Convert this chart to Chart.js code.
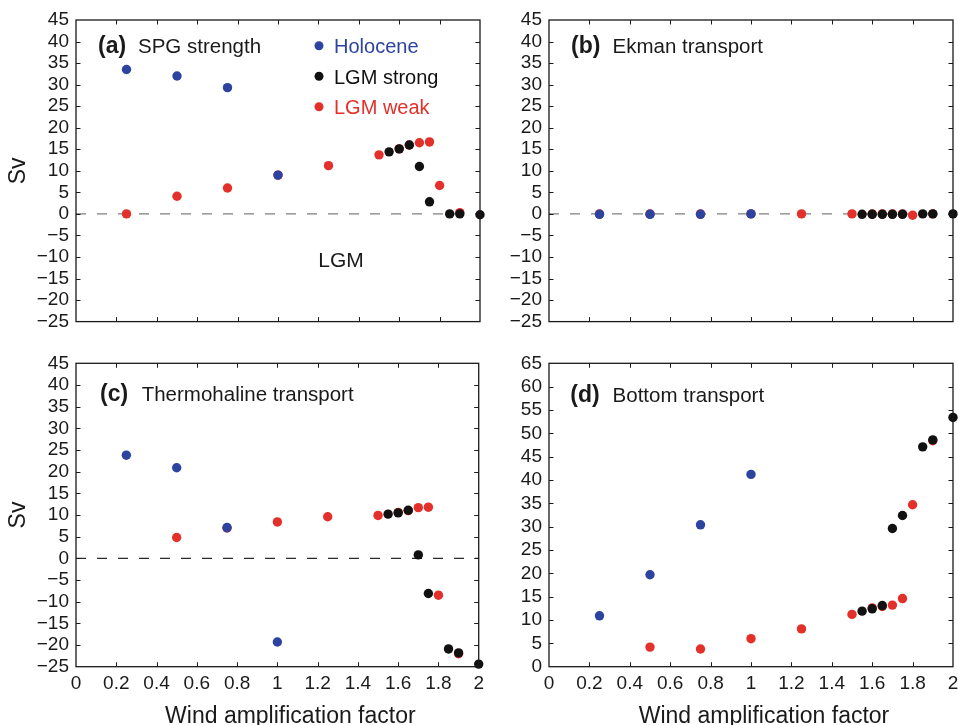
<!DOCTYPE html>
<html>
<head>
<meta charset="utf-8">
<script src="https://cdn.jsdelivr.net/npm/chart.js@4.4.1/dist/chart.umd.min.js"></script>
<style>
  html, body { margin: 0; padding: 0; background: #fff; overflow: hidden; width: 958px; height: 725px; }
  canvas { position: absolute; }
</style>
</head>
<body>
<canvas id="ca" width="490" height="340" style="left:0px;top:0px"></canvas>
<canvas id="cb" width="490" height="340" style="left:480px;top:0px"></canvas>
<canvas id="cc" width="490" height="390" style="left:0px;top:340px"></canvas>
<canvas id="cd" width="490" height="390" style="left:480px;top:340px"></canvas>
<script>
// ---------------- data ----------------
const seriesNames = ['Holocene', 'LGM strong', 'LGM weak'];
const holoceneX  = [0.25, 0.5, 0.75, 1.0];
const lgmStrongX = [1.55, 1.6, 1.65, 1.7, 1.75, 1.85, 1.9, 2.0];
const lgmWeakX   = [0.25, 0.5, 0.75, 1.0, 1.25, 1.5, 1.6, 1.65, 1.7, 1.75, 1.8, 1.9];

// (a) SPG strength
const spgHolocene = [33.5, 32.0, 29.3, 9.0];
const spgStrong   = [14.4, 15.1, 16.0, 11.0, 2.8, 0.0, 0.0, -0.2];
const spgWeak     = [0.0, 4.1, 6.0, 9.0, 11.2, 13.7, 15.1, 16.0, 16.5, 16.7, 6.6, 0.3];
// (b) Ekman transport
const ekmanHolocene = [-0.1, -0.1, -0.1, 0.0];
const ekmanStrong   = [-0.1, -0.1, -0.1, -0.1, -0.1, 0.0, 0.0, 0.0];
const ekmanWeak     = [0.0, 0.0, 0.0, 0.0, 0.0, 0.0, 0.0, 0.0, 0.0, 0.0, -0.3, 0.0];
// (c) Thermohaline transport
const thermoHolocene = [23.8, 20.9, 7.1, -19.3];
const thermoStrong   = [10.2, 10.5, 11.1, 0.8, -8.1, -20.9, -21.8, -24.4];
const thermoWeak     = [null, 4.8, 7.0, 8.4, 9.6, 9.9, 10.6, 11.0, 11.7, 11.8, -8.5, -22.0];
// (d) Bottom transport
const bottomHolocene = [10.9, 19.7, 30.4, 41.2];
const bottomStrong   = [11.9, 12.4, 13.1, 29.6, 32.4, 47.1, 48.6, 53.4];
const bottomWeak     = [null, 4.2, 3.8, 6.0, 8.1, 11.2, 12.6, 12.9, 13.2, 14.6, 34.7, 48.4];

// axis tick settings
const xTickMin = 0, xTickMax = 2, xTickStep = 0.2;
const yRangeTransport = [-25, 45];
const yRangeBottom = [0, 65];
const yTickStep = 5;

// ---------------- styling ----------------
const FONT = '"Liberation Sans", Arial, Helvetica, sans-serif';
const COLORS = ['#2c43a0', '#111111', '#e3302a'];
const TXT = '#1a1a1a';

function pts(xs, ys) {
  const out = [];
  xs.forEach((x, i) => { if (ys[i] !== null && ys[i] !== undefined) out.push({x: x, y: ys[i]}); });
  return out;
}

const panelPlugin = {
  id: 'panel',
  beforeDatasetsDraw(chart, args, o) {
    if (!o.zeroColor) return;
    const ctx = chart.ctx, a = chart.chartArea;
    const y0 = chart.scales.y.getPixelForValue(0);
    ctx.save();
    ctx.strokeStyle = o.zeroColor;
    ctx.lineWidth = 1.4;
    ctx.setLineDash([10, 11]);
    ctx.beginPath();
    ctx.moveTo(a.left, y0);
    ctx.lineTo(a.right, y0);
    ctx.stroke();
    ctx.restore();
  },
  afterDraw(chart, args, o) {
    const ctx = chart.ctx, a = chart.chartArea;
    const xs = chart.scales.x, ys = chart.scales.y;
    ctx.save();
    // box
    ctx.strokeStyle = '#1a1a1a';
    ctx.lineWidth = 1.3;
    ctx.strokeRect(a.left, a.top, a.right - a.left, a.bottom - a.top);
    // inward ticks
    ctx.lineWidth = 1;
    const tl = 4.5;
    ctx.beginPath();
    ys.ticks.forEach(t => {
      const p = Math.round(ys.getPixelForValue(t.value)) + 0.5;
      if (p <= a.top + 1 || p >= a.bottom - 1) return;
      ctx.moveTo(a.left, p); ctx.lineTo(a.left + tl, p);
      ctx.moveTo(a.right, p); ctx.lineTo(a.right - tl, p);
    });
    xs.ticks.forEach(t => {
      const p = Math.round(xs.getPixelForValue(t.value)) + 0.5;
      if (p <= a.left + 1 || p >= a.right - 1) return;
      ctx.moveTo(p, a.bottom); ctx.lineTo(p, a.bottom - tl);
      ctx.moveTo(p, a.top); ctx.lineTo(p, a.top + tl);
    });
    ctx.stroke();
    // panel label
    ctx.fillStyle = TXT;
    ctx.textBaseline = 'alphabetic';
    ctx.textAlign = 'left';
    ctx.font = 'bold 23px ' + FONT;
    ctx.fillText(o.tag, a.left + o.tagDx, a.top + o.baseDy);
    ctx.font = '20.5px ' + FONT;
    ctx.fillText(o.title, a.left + o.textDx, a.top + o.baseDy);
    // x axis title
    if (o.xTitle) {
      ctx.font = '23px ' + FONT;
      ctx.textAlign = 'center';
      ctx.fillText(o.xTitle, (a.left + a.right) / 2 + 13, a.bottom + 56);
    }
    // extra note
    if (o.note) {
      ctx.font = '21px ' + FONT;
      ctx.textAlign = 'center';
      ctx.fillText(o.note, a.left + 265, a.top + 247);
    }
    // legend
    if (o.legend) {
      ctx.font = '20px ' + FONT;
      ctx.textAlign = 'left';
      chart.data.datasets.forEach((ds, i) => {
        const cy = a.top + 25.7 + i * 30.5;
        ctx.fillStyle = ds.backgroundColor;
        ctx.beginPath();
        ctx.arc(a.left + 243, cy, 4.5, 0, Math.PI * 2);
        ctx.fill();
        ctx.fillText(ds.label, a.left + 258, cy + 7.3);
      });
    }
    ctx.restore();
  }
};

function makeChart(id, o) {
  const datasets = [
    {label: seriesNames[0], data: pts(holoceneX, o.h)},
    {label: seriesNames[1], data: pts(lgmStrongX, o.s)},
    {label: seriesNames[2], data: pts(lgmWeakX, o.w)}
  ].map((d, i) => Object.assign(d, {
    backgroundColor: COLORS[i], borderColor: COLORS[i], borderWidth: 0,
    pointRadius: 4.7, pointHoverRadius: 4.7, showLine: false, clip: false
  }));
  return new Chart(document.getElementById(id), {
    type: 'scatter',
    data: {datasets: datasets},
    options: {
      responsive: false, animation: false, devicePixelRatio: 1,
      layout: {padding: {top: o.padTop, right: o.padRight, left: 0, bottom: 0}},
      plugins: {
        legend: {display: false}, tooltip: {enabled: false},
        panel: o.panel
      },
      scales: {
        x: {
          type: 'linear', min: xTickMin, max: xTickMax,
          grid: {display: false, drawTicks: false}, border: {display: false},
          ticks: {
            display: o.showX, stepSize: xTickStep, autoSkip: false, maxRotation: 0,
            padding: 6, color: TXT, font: {family: FONT, size: 19},
            callback: v => String(Math.round(v * 10) / 10)
          },
          afterFit: s => { s.height = o.xHeight; }
        },
        y: {
          type: 'linear', min: o.yRange[0], max: o.yRange[1],
          grid: {display: false, drawTicks: false}, border: {display: false},
          ticks: {
            stepSize: yTickStep, autoSkip: false, padding: 7, color: TXT, font: {family: FONT, size: 19},
            callback: v => v < 0 ? '\u2212' + Math.abs(v) : String(v)
          },
          title: {display: o.showSv, text: 'Sv', color: TXT, font: {family: FONT, size: 23}, padding: {top: 5, bottom: 0}},
          afterFit: s => { s.width = o.yWidth; }
        }
      }
    },
    plugins: [panelPlugin]
  });
}

makeChart('ca', {
  h: spgHolocene, s: spgStrong, w: spgWeak, yRange: yRangeTransport,
  padTop: 20, padRight: 10, xHeight: 17, yWidth: 76, showX: false, showSv: true,
  panel: {tag: '(a)', title: 'SPG strength', tagDx: 22, textDx: 62, baseDy: 33.3,
          zeroColor: '#808080', legend: true, note: 'LGM'}
});
makeChart('cb', {
  h: ekmanHolocene, s: ekmanStrong, w: ekmanWeak, yRange: yRangeTransport,
  padTop: 20, padRight: 17, xHeight: 17, yWidth: 69, showX: false, showSv: false,
  panel: {tag: '(b)', title: 'Ekman transport', tagDx: 22, textDx: 63.6, baseDy: 33.3,
          zeroColor: '#808080'}
});
makeChart('cc', {
  h: thermoHolocene, s: thermoStrong, w: thermoWeak, yRange: yRangeTransport,
  padTop: 23.3, padRight: 10, xHeight: 63.3, yWidth: 76, showX: true, showSv: true,
  panel: {tag: '(c)', title: 'Thermohaline transport', tagDx: 24, textDx: 65.7, baseDy: 37.4,
          zeroColor: '#2a2a2a', xTitle: 'Wind amplification factor'}
});
makeChart('cd', {
  h: bottomHolocene, s: bottomStrong, w: bottomWeak, yRange: yRangeBottom,
  padTop: 23.3, padRight: 17, xHeight: 63.3, yWidth: 69, showX: true, showSv: false,
  panel: {tag: '(d)', title: 'Bottom transport', tagDx: 21.3, textDx: 63.6, baseDy: 39,
          xTitle: 'Wind amplification factor'}
});
</script>
</body>
</html>
